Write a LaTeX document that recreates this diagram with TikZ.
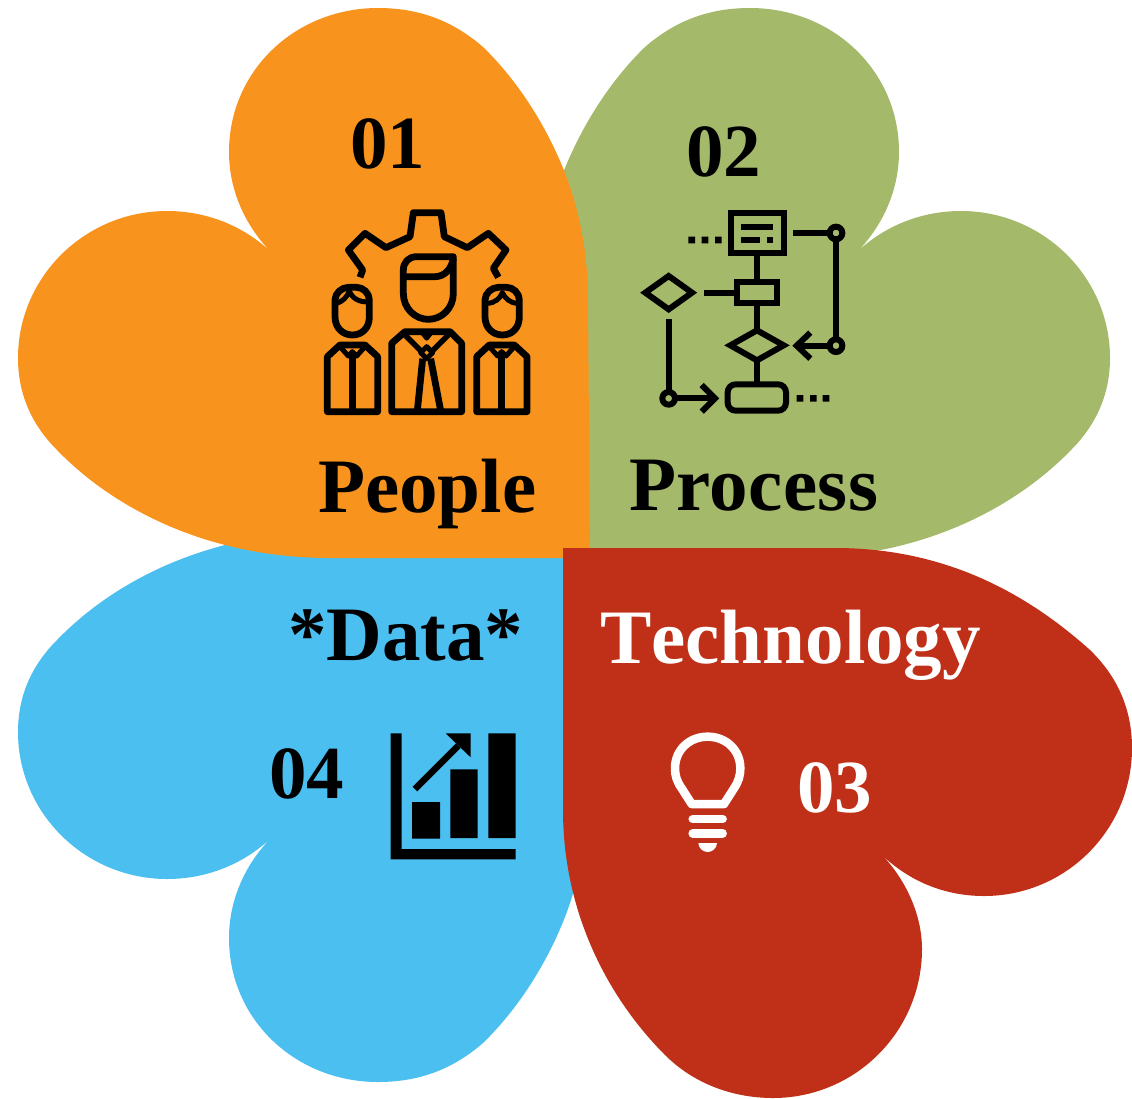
\documentclass[tikz,border=0pt]{standalone}
\usepackage{fontspec}
\setmainfont{Liberation Serif}
\definecolor{porange}{RGB}{248,148,30}
\definecolor{pgreen}{RGB}{165,185,107}
\definecolor{pblue}{RGB}{76,191,241}
\definecolor{pred}{RGB}{192,48,24}
\tikzset{
  lbl/.style={inner sep=0pt,anchor=base west,font=\bfseries\fontsize{77}{80}\selectfont},
  numlbl/.style={inner sep=0pt,anchor=base west,font=\bfseries\fontsize{75}{80}\selectfont},
  ic/.style={draw=black,line width=6.8pt,line join=round,fill=none},
  thin ic/.style={draw=black,line width=6pt,line join=miter},
  wh/.style={draw=white,line width=8.5pt}
}
\def\orangepetal{(590,558) -- (588,300) .. controls (588,255) and (580,212) .. (565,173)
  .. controls (545,122) and (515,78) .. (483,47)
  .. controls (452,20) and (418,8) .. (378,8)
  .. controls (296,8) and (229,70) .. (229,152)
  .. controls (229,190) and (245,225) .. (270,251)
  .. controls (243,226) and (207,211) .. (167,211)
  .. controls (85,211) and (18,277) .. (18,358)
  .. controls (18,392) and (30,423) .. (57,450)
  .. controls (115,510) and (210,558) .. (330,558) -- cycle}
\begin{document}
\begin{tikzpicture}[x=1pt,y=1pt,yscale=-1]
\useasboundingbox (0,0) rectangle (1132,1098);
% petals
\begin{scope}[xscale=-1,xshift=-1128pt]
\fill[pgreen] \orangepetal;
\end{scope}
\begin{scope}[yscale=-1,yshift=-1090pt]
\fill[pblue] \orangepetal;
\end{scope}
\fill[porange] \orangepetal;
\fill[pred] (563,548) -- (835,548) .. controls (925,548) and (1010,578) .. (1090,650)
  .. controls (1118,677) and (1132,710) .. (1132,748)
  arc[start angle=0,end angle=90,radius=148]
  .. controls (943,896) and (908,880) .. (882,855)
  .. controls (906,880) and (922,915) .. (922,949)
  arc[start angle=0,end angle=90,radius=149]
  .. controls (735,1098) and (695,1085) .. (665,1055)
  .. controls (610,1000) and (563,915) .. (563,810) -- cycle;
% people icon
\begin{scope}[shift={(310,200)},scale=1/3]
\draw[ic] (150,232) -- (158,210) -- (115,150) -- (165,100) -- (228,143) -- (300,110) -- (310,38) -- (393,38) -- (403,110) -- (472,143) -- (535,100) -- (588,150) -- (550,205) -- (565,232);
\draw[ic] (430,170) -- (320,170) .. controls (295,170) and (280,188) .. (280,210) -- (280,280) .. controls (280,325) and (315,358) .. (355,358) .. controls (395,358) and (430,325) .. (430,280) -- cycle;
\draw[ic] (282,230) -- (375,230) .. controls (405,230) and (425,205) .. (430,175);
\draw[ic] (75,300) .. controls (75,280) and (95,262) .. (115,262) -- (140,262) .. controls (160,262) and (178,280) .. (178,300) -- (178,350) .. controls (178,385) and (155,405) .. (127,405) .. controls (100,405) and (75,385) .. (75,350) -- cycle;
\draw[ic,line width=5pt] (80,310) .. controls (95,305) and (110,295) .. (118,272) .. controls (125,295) and (150,308) .. (175,305);
\draw[ic] (525,300) .. controls (525,280) and (545,262) .. (565,262) -- (590,262) .. controls (610,262) and (628,280) .. (628,300) -- (628,350) .. controls (628,385) and (605,405) .. (577,405) .. controls (550,405) and (525,385) .. (525,350) -- cycle;
\draw[ic,line width=5pt] (530,310) .. controls (555,310) and (570,295) .. (577,278) .. controls (585,295) and (600,310) .. (625,310);
% central body
\draw[ic] (245,430) -- (285,395) -- (420,395) -- (455,430) -- (455,635) -- (245,635) -- cycle;
\draw[ic,line width=5.5pt] (280,400) -- (335,455) (420,400) -- (365,455);
\draw[ic,line width=5pt] (350,440) -- (368,458) -- (350,476) -- (332,458) -- cycle;
\draw[ic,line width=4.5pt] (338,400) -- (350,415) -- (362,400);
\draw[ic] (338,476) -- (322,632) (362,476) -- (392,632);
% left body
\draw[ic] (52,470) -- (90,435) -- (165,435) -- (203,470) -- (203,635) -- (52,635) -- cycle;
\draw[ic,line width=5pt] (90,440) -- (115,468) -- (127,455) -- (140,468) -- (165,440);
\draw[ic] (127,462) -- (127,632);
% right body
\draw[ic] (500,470) -- (538,435) -- (613,435) -- (651,470) -- (651,635) -- (500,635) -- cycle;
\draw[ic,line width=5pt] (538,440) -- (563,468) -- (575,455) -- (588,468) -- (613,440);
\draw[ic] (575,462) -- (575,632);
\end{scope}
% process icon
\begin{scope}[shift={(630,200)},scale=1/3]
\draw[thin ic] (302,40) rectangle (462,160);
\draw[thin ic] (333,80) -- (430,80) (333,120) -- (390,120) (410,120) -- (430,120);
\fill (175,110) rectangle (195,130) (215,110) rectangle (235,130) (255,110) rectangle (275,130);
\draw[thin ic] (490,99) -- (598,99) (618,120) -- (618,416);
\draw[thin ic] (618,99) circle[radius=19] (618,437) circle[radius=19];
\draw[thin ic] (500,437) -- (598,437);
\draw[thin ic] (541,398) -- (500,437) -- (541,476);
\draw[thin ic] (381,160) -- (381,240) (381,310) -- (381,388) (381,485) -- (381,548);
\draw[thin ic] (320,247) rectangle (441,309);
\draw[thin ic] (301,436) -- (381,391) -- (461,436) -- (381,481) -- cycle;
\draw[thin ic,rounded corners=8pt] (293,553) rectangle (468,632);
\fill (500,585) rectangle (520,605) (540,585) rectangle (560,605) (578,585) rectangle (598,605);
\draw[thin ic] (46,278) -- (116,228) -- (186,278) -- (116,328) -- cycle;
\draw[thin ic] (222,278) -- (320,278) (116,358) -- (116,575) (135,595) -- (250,595);
\draw[thin ic] (116,595) circle[radius=19];
\draw[thin ic] (215,555) -- (255,595) -- (215,635);
\end{scope}
% chart icon
\begin{scope}[shift={(380,720)},scale=1/3]
\fill (32,40) -- (65,40) -- (65,387) -- (407,387) -- (407,418) -- (32,418) -- cycle;
\fill (96,246) rectangle (180,356) (211,148) rectangle (293,354) (325,40) rectangle (407,354);
\draw[line width=6.5pt] (105,207) -- (235,77);
\fill (197,40) -- (272,40) -- (272,112) -- cycle;
\end{scope}
% bulb icon
\begin{scope}[shift={(650,720)},scale=1/3]
\draw[wh,line join=round] (125,252) -- (222,252) -- (252,205) .. controls (265,185) and (271,168) .. (271,145) .. controls (271,90) and (228,50) .. (173,50) .. controls (118,50) and (75,90) .. (75,145) .. controls (75,168) and (81,185) .. (95,205) -- cycle;
\draw[wh,line cap=round] (128,297) -- (218,297) (128,340) -- (218,340);
\fill[white] (145,369) -- (201,369) .. controls (200,385) and (187,396) .. (173,396) .. controls (159,396) and (146,385) .. (145,369) -- cycle;
\end{scope}
% labels
\node[numlbl] (n1) at (350,168) {01};
\node[numlbl] (n2) at (686,176) {02};
\node[numlbl,white] (n3) at (797,812) {03};
\node[numlbl] (n4) at (269,798) {04};
\node[lbl] (people) at (318,512) {People};
\node[lbl] (process) at (629,510) {\addfontfeatures{LetterSpace=0.5}Process};
\node[lbl,white] (tech) at (600,663) {\addfontfeatures{Kerning=Off}Technology};
\node[lbl] (data) at (288,660) {*Data*};
\end{tikzpicture}
\end{document}
